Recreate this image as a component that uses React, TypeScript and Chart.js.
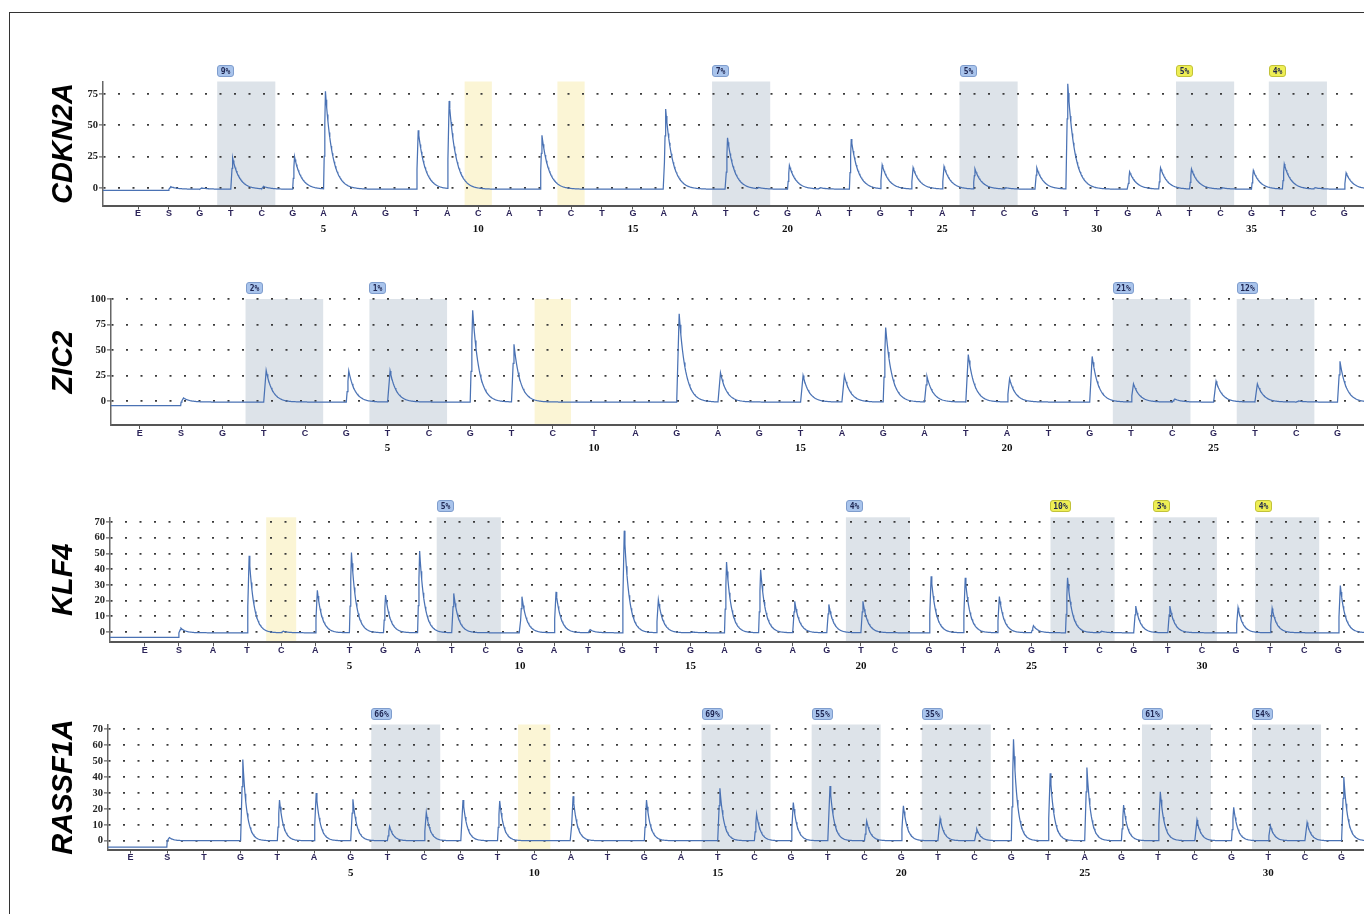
import React, { useEffect, useRef } from 'react';
import { Chart, registerables } from 'chart.js';

Chart.register(...registerables);

// ---------------- data ----------------
// Dispensation order (x categories) and peak heights per dispensation.
const CDKN2A_DISPENSATION = ['E','S','G','T','C','G','A','A','G','T','A','C','A','T','C','T','G','A','A','T','C','G','A','T','G','T','A','T','C','G','T','T','G','A','T','C','G','T','C','G'];
const CDKN2A_PEAKS = [0,2,1,25,2,26,78,0,0,47,70,0,0,43,0,0,0,64,0,41,1,19,1,40,19,17,18,16,1,17,84,0,14,17,16,1,15,20,1,13];
const CDKN2A_Y_TICKS = [0, 25, 50, 75];
const CDKN2A_NUMBER_TICKS = [5, 10, 15, 20, 25, 30, 35];
// [from, to, region kind, label, label kind]
const CDKN2A_SHADES: [number, number, string, string, string][] = [
  [4, 5, 'cpg', '9%', 'ok'],
  [12, 12, 'ctrl', '', ''],
  [15, 15, 'ctrl', '', ''],
  [20, 21, 'cpg', '7%', 'ok'],
  [28, 29, 'cpg', '5%', 'ok'],
  [35, 36, 'cpg', '5%', 'warn'],
  [38, 39, 'cpg', '4%', 'warn'],
];

const ZIC2_DISPENSATION = ['E','S','G','T','C','G','T','C','G','T','C','T','A','G','A','G','T','A','G','A','T','A','T','G','T','C','G','T','C','G'];
const ZIC2_PEAKS = [0,4,0,31,0,30.5,30.5,0,90,56.5,0,0,0,86.5,28.6,0,26,26,73,25,46.5,22.7,0,44.7,17.8,3,20.4,17.8,1,40];
const ZIC2_Y_TICKS = [0, 25, 50, 75, 100];
const ZIC2_NUMBER_TICKS = [5, 10, 15, 20, 25];
const ZIC2_SHADES: [number, number, string, string, string][] = [
  [4, 5, 'cpg', '2%', 'ok'],
  [7, 8, 'cpg', '1%', 'ok'],
  [11, 11, 'ctrl', '', ''],
  [25, 26, 'cpg', '21%', 'ok'],
  [28, 29, 'cpg', '12%', 'ok'],
];

const KLF4_DISPENSATION = ['E','S','A','T','C','A','T','G','A','T','C','G','A','T','G','T','G','A','G','A','G','T','C','G','T','A','G','T','C','G','T','C','G','T','C','G'];
const KLF4_PEAKS = [0,3,0,49,1,27,51,24,52,25,0,23,26,2,65,21,0.5,45,40,20,18,20,0,36,35,23,4.5,35,1,17,17,0,16,15.5,0,30];
const KLF4_Y_TICKS = [0, 10, 20, 30, 40, 50, 60, 70];
const KLF4_NUMBER_TICKS = [5, 10, 15, 20, 25, 30];
const KLF4_SHADES: [number, number, string, string, string][] = [
  [5, 5, 'ctrl', '', ''],
  [10, 11, 'cpg', '5%', 'ok'],
  [22, 23, 'cpg', '4%', 'ok'],
  [28, 29, 'cpg', '10%', 'warn'],
  [31, 32, 'cpg', '3%', 'warn'],
  [34, 35, 'cpg', '4%', 'warn'],
];

const RASSF1A_DISPENSATION = ['E','S','T','G','T','A','G','T','C','G','T','C','A','T','G','A','T','C','G','T','C','G','T','C','G','T','A','G','T','C','G','T','C','G'];
const RASSF1A_PEAKS = [0,2,0,51,25.6,30,26,9,17.8,25.6,25,0,28,0,25.6,0,33,16.8,24,34.4,12.4,22,14,7.3,63.7,42.3,46,22.4,30.8,13,21,9.4,11.5,40];
const RASSF1A_Y_TICKS = [0, 10, 20, 30, 40, 50, 60, 70];
const RASSF1A_NUMBER_TICKS = [5, 10, 15, 20, 25, 30];
const RASSF1A_SHADES: [number, number, string, string, string][] = [
  [8, 9, 'cpg', '66%', 'ok'],
  [12, 12, 'ctrl', '', ''],
  [17, 18, 'cpg', '69%', 'ok'],
  [20, 21, 'cpg', '55%', 'ok'],
  [23, 24, 'cpg', '35%', 'ok'],
  [29, 30, 'cpg', '61%', 'ok'],
  [32, 33, 'cpg', '54%', 'ok'],
];

// Number of leading dispensations (E, S) that are not counted in the position numbers.
const POSITION_OFFSET = 2;
const START_POSITION = 2; // the "S" dispensation

// ---------------- layout / style ----------------
const CANVAS_W = 1420;
const CANVAS_H = 200;
const LETTER_AXIS_H = 14;
const NUMBER_AXIS_H = 22;
const GENE_CENTER_X = 64;
const GENE_FONT_SIZE = 29;
const SHADE_HALF = 0.44;
const RISE = 0.06;
const STEP = 0.02;

const CPG_FILL = '#dde3e9';
const CTRL_FILL = '#fbf5d5';
const OK_FILL = '#a9c4ec';
const OK_STROKE = '#7f9dcd';
const WARN_FILL = '#eeee55';
const WARN_STROKE = '#c2c23a';
const TRACE = '#4a72b4';
const GRID_DOT = '#3a3a3a';

type Panel = {
  name: string;
  disp: string[];
  peaks: number[];
  yTicks: number[];
  numberTicks: number[];
  shades: [number, number, string, string, string][];
  canvasTop: number;
  areaTop: number;
  areaBottom: number;
  axisX: number;
  firstX: number;
  spacing: number;
  yMin: number;
  yMax: number;
  preBase: number;
  base: number;
  tau: number;
};

const PANELS: Panel[] = [
  { name: 'CDKN2A', disp: CDKN2A_DISPENSATION, peaks: CDKN2A_PEAKS, yTicks: CDKN2A_Y_TICKS, numberTicks: CDKN2A_NUMBER_TICKS, shades: CDKN2A_SHADES,
    canvasTop: 50, areaTop: 81.5, areaBottom: 205.5, axisX: 103, firstX: 138, spacing: 30.93, yMin: -14, yMax: 85, preBase: -2, base: -1, tau: 0.22 },
  { name: 'ZIC2', disp: ZIC2_DISPENSATION, peaks: ZIC2_PEAKS, yTicks: ZIC2_Y_TICKS, numberTicks: ZIC2_NUMBER_TICKS, shades: ZIC2_SHADES,
    canvasTop: 268, areaTop: 299, areaBottom: 425, axisX: 111, firstX: 139.8, spacing: 41.3, yMin: -23.5, yMax: 100, preBase: -4.5, base: -1, tau: 0.15 },
  { name: 'KLF4', disp: KLF4_DISPENSATION, peaks: KLF4_PEAKS, yTicks: KLF4_Y_TICKS, numberTicks: KLF4_NUMBER_TICKS, shades: KLF4_SHADES,
    canvasTop: 486, areaTop: 517.3, areaBottom: 642.2, axisX: 110, firstX: 144.8, spacing: 34.1, yMin: -6.5, yMax: 73, preBase: -3.5, base: -0.5, tau: 0.14 },
  { name: 'RASSF1A', disp: RASSF1A_DISPENSATION, peaks: RASSF1A_PEAKS, yTicks: RASSF1A_Y_TICKS, numberTicks: RASSF1A_NUMBER_TICKS, shades: RASSF1A_SHADES,
    canvasTop: 693, areaTop: 724.5, areaBottom: 849.5, axisX: 108, firstX: 130.5, spacing: 36.7, yMin: -5.5, yMax: 73, preBase: -4, base: 0, tau: 0.11 },
];

// Peak shape used to render each dispensation's signal (rendering only).
function peakShape(d: number, tau: number): number {
  if (d < 0) return 0;
  if (d < RISE) return d / RISE;
  return Math.exp(-(d - RISE) / tau);
}

function buildTrace(p: Panel, xMin: number) {
  const n = p.peaks.length;
  const pts: { x: number; y: number }[] = [];
  pts.push({ x: xMin, y: p.preBase });
  pts.push({ x: START_POSITION - 0.01, y: p.preBase });
  const steps = Math.round((n + 1 - START_POSITION) / STEP);
  for (let k = 0; k <= steps; k++) {
    const x = START_POSITION + k * STEP;
    let y = p.base;
    for (let j = START_POSITION - 1; j < n; j++) {
      const d = x - (j + 1);
      if (d < 0 || d > 1.6) continue;
      y += p.peaks[j] * peakShape(d, p.tau);
    }
    pts.push({ x, y });
  }
  return pts;
}

const shadesPlugin = {
  id: 'pyroShades',
  beforeDraw(chart: any, _args: any, opts: any) {
    const { ctx, chartArea, scales } = chart;
    const xs = scales.x;
    ctx.save();
    for (const [from, to, kind, label, labelKind] of opts.shades as [number, number, string, string, string][]) {
      const l = xs.getPixelForValue(from - SHADE_HALF);
      const r = xs.getPixelForValue(to + SHADE_HALF);
      ctx.fillStyle = kind === 'ctrl' ? CTRL_FILL : CPG_FILL;
      ctx.fillRect(l, chartArea.top, r - l, chartArea.bottom - chartArea.top);
      if (label) {
        ctx.font = 'bold 8px "DejaVu Sans Mono", monospace';
        const w = Math.round(ctx.measureText(label).width + 6);
        const h = 11;
        const bx = Math.round(l) + 0.5;
        const by = Math.round(chartArea.top - 11.5 - h / 2) + 0.5;
        ctx.beginPath();
        if ((ctx as any).roundRect) (ctx as any).roundRect(bx, by, w, h, 2.5);
        else ctx.rect(bx, by, w, h);
        ctx.fillStyle = labelKind === 'warn' ? WARN_FILL : OK_FILL;
        ctx.fill();
        ctx.lineWidth = 1;
        ctx.strokeStyle = labelKind === 'warn' ? WARN_STROKE : OK_STROKE;
        ctx.stroke();
        ctx.fillStyle = '#1d2450';
        ctx.textAlign = 'center';
        ctx.textBaseline = 'middle';
        ctx.fillText(label, bx + w / 2, by + h / 2 + 0.5);
      }
    }
    ctx.restore();
  },
};

function buildConfig(p: Panel): any {
  const xMin = 1 - (p.firstX - p.axisX) / p.spacing;
  const xMax = 1 + (CANVAS_W - p.firstX) / p.spacing;
  const padTop = p.areaTop - p.canvasTop;
  const padBottom = CANVAS_H - (p.areaBottom - p.canvasTop) - LETTER_AXIS_H - NUMBER_AXIS_H;
  const titleLine = GENE_FONT_SIZE * 1.2;
  return {
    type: 'line',
    data: {
      datasets: [
        {
          data: buildTrace(p, xMin),
          borderColor: TRACE,
          borderWidth: 1.25,
          pointRadius: 0,
          fill: false,
          tension: 0,
        },
      ],
    },
    options: {
      animation: false,
      responsive: false,
      devicePixelRatio: 1,
      parsing: false,
      normalized: true,
      events: [],
      layout: { padding: { top: padTop, bottom: padBottom, left: 0, right: 0 } },
      plugins: {
        legend: { display: false },
        tooltip: { enabled: false },
        pyroShades: { shades: p.shades },
      },
      scales: {
        x: {
          type: 'linear',
          position: 'bottom',
          weight: 0,
          min: xMin,
          max: xMax,
          afterBuildTicks: (s: any) => {
            s.ticks = p.disp.map((_, i) => ({ value: i + 1 }));
          },
          afterFit: (s: any) => {
            s.height = LETTER_AXIS_H;
          },
          grid: { display: true, drawOnChartArea: false, drawTicks: true, tickLength: 4, tickColor: '#555', tickWidth: 1 },
          border: { display: true, color: '#555', width: 2 },
          ticks: {
            autoSkip: false,
            maxRotation: 0,
            minRotation: 0,
            padding: -1,
            color: '#2b2358',
            font: { family: '"Liberation Sans", Arial, sans-serif', size: 9, weight: 'bold' },
            callback: (v: number) => p.disp[Math.round(v) - 1] ?? '',
          },
        },
        x2: {
          type: 'linear',
          position: 'bottom',
          weight: 1,
          min: xMin,
          max: xMax,
          afterBuildTicks: (s: any) => {
            s.ticks = p.numberTicks.map((n) => ({ value: n + POSITION_OFFSET }));
          },
          afterFit: (s: any) => {
            s.height = NUMBER_AXIS_H;
          },
          grid: { display: false, drawTicks: false },
          border: { display: false },
          ticks: {
            autoSkip: false,
            maxRotation: 0,
            minRotation: 0,
            padding: 3,
            color: '#111',
            font: { family: '"Liberation Serif", serif', size: 11, weight: 'bold' },
            callback: (v: number) => String(Math.round(v) - POSITION_OFFSET),
          },
        },
        y: {
          type: 'linear',
          position: 'left',
          min: p.yMin,
          max: p.yMax,
          afterBuildTicks: (s: any) => {
            s.ticks = p.yTicks.map((v) => ({ value: v }));
          },
          afterFit: (s: any) => {
            s.width = p.axisX;
          },
          grid: { display: true, drawOnChartArea: true, color: GRID_DOT, lineWidth: 1.8, drawTicks: true, tickLength: 4, tickColor: '#444', tickWidth: 1 },
          border: { display: true, color: '#666', width: 1.5, dash: [2, 12.5] },
          ticks: {
            padding: 1,
            color: '#222',
            font: { family: '"Liberation Serif", serif', size: 10.5, weight: 'bold' },
          },
          title: {
            display: true,
            text: p.name,
            color: '#000',
            font: { family: '"Liberation Sans", Arial, sans-serif', size: GENE_FONT_SIZE, weight: 'bold', style: 'italic', lineHeight: 1.2 },
            padding: { top: GENE_CENTER_X - titleLine / 2, bottom: 0 },
          },
        },
      },
    },
    plugins: [shadesPlugin],
  };
}

function Pyrogram({ panel }: { panel: Panel }) {
  const ref = useRef<HTMLCanvasElement>(null);
  useEffect(() => {
    const canvas = ref.current;
    if (!canvas) return;
    const chart = new Chart(canvas, buildConfig(panel));
    return () => chart.destroy();
  }, [panel]);
  return (
    <canvas
      ref={ref}
      width={CANVAS_W}
      height={CANVAS_H}
      style={{ position: 'absolute', left: 0, top: panel.canvasTop, width: CANVAS_W, height: CANVAS_H }}
    />
  );
}

export default function App() {
  return (
    <div style={{ position: 'fixed', left: 0, top: 0, width: 1364, height: 914, overflow: 'hidden', background: '#fff' }}>
      <div style={{ position: 'absolute', left: 9, top: 12, width: 1420, height: 980, border: '1.5px solid #333' }} />
      {PANELS.map((p) => (
        <Pyrogram key={p.name} panel={p} />
      ))}
    </div>
  );
}
